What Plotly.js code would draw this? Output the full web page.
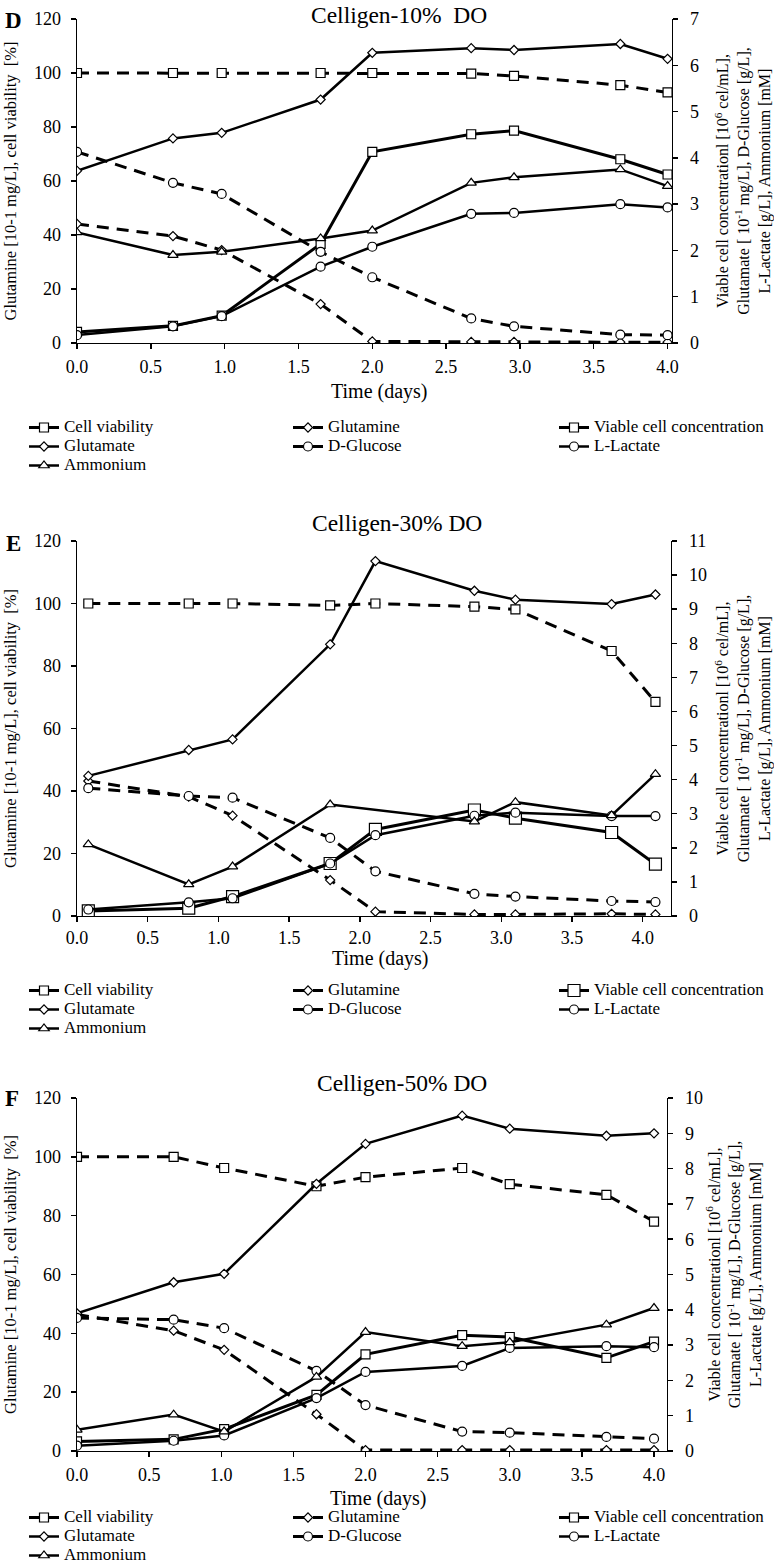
<!DOCTYPE html>
<html>
<head>
<meta charset="utf-8">
<script src="https://cdn.plot.ly/plotly-3.0.1.min.js"></script>
<style>html,body{margin:0;padding:0;background:#fff;}#chart{width:774px;height:1564px;}</style>
</head>
<body>
<div id="chart"></div>
<script>
// ---------------- DATA ----------------
const seriesNames = ['Cell viability','Glutamine','Viable cell concentration','Glutamate','D-Glucose','L-Lactate','Ammonium'];
const panelTitles = ['Celligen-10%\u00a0 DO','Celligen-30% DO','Celligen-50% DO'];
const panelLetters = ['D','E','F'];
const xTickLabels = ['0.0','0.5','1.0','1.5','2.0','2.5','3.0','3.5','4.0'];
const xTitle = 'Time (days)';

// Panel D (10% DO)
const timeD = [0, 0.65, 0.98, 1.65, 2.0, 2.67, 2.96, 3.68, 4.0];
const viabilityD = [100, 100, 100, 100, 100, 99.8, 98.9, 95.5, 92.8];
const glutamineD = [44.1, 39.6, 34.4, 14.4, 0.6, 0.4, 0.4, 0.3, 0.3];
const vcdD = [0.24, 0.37, 0.59, 2.14, 4.13, 4.51, 4.59, 3.97, 3.64];
const glutamateD = [3.72, 4.42, 4.54, 5.26, 6.27, 6.37, 6.33, 6.46, 6.14];
const glucoseD = [4.13, 3.46, 3.22, 1.97, 1.42, 0.53, 0.36, 0.18, 0.17];
const lactateD = [0.17, 0.36, 0.58, 1.65, 2.08, 2.79, 2.81, 3.0, 2.93];
const ammoniumTimeD = [0, 0.65, 0.98, 1.65, 2.0, 2.67, 2.96, 3.68, 4.0];
const ammoniumD = [2.39, 1.90, 1.97, 2.26, 2.43, 3.46, 3.58, 3.75, 3.39];

// Panel E (30% DO)
const timeE = [0.08, 0.79, 1.1, 1.79, 2.11, 2.81, 3.1, 3.78, 4.09];
const viabilityE = [100, 100, 100, 99.4, 100, 99, 98.1, 84.8, 68.5];
const glutamineE = [43.2, 38.2, 32.1, 11.5, 1.4, 0.5, 0.5, 0.7, 0.5];
const vcdE = [0.15, 0.23, 0.57, 1.54, 2.54, 3.11, 2.87, 2.45, 1.52];
const glutamateE = [4.11, 4.87, 5.18, 7.97, 10.41, 9.54, 9.28, 9.15, 9.43];
const glucoseE = [3.75, 3.52, 3.47, 2.29, 1.31, 0.65, 0.57, 0.44, 0.41];
const lactateE = [0.19, 0.4, 0.52, 1.54, 2.37, 2.94, 3.03, 2.93, 2.93];
const ammoniumTimeE = [0.08, 0.79, 1.1, 1.79, 2.81, 3.1, 3.78, 4.09];
const ammoniumE = [2.10, 0.93, 1.45, 3.27, 2.77, 3.34, 2.95, 4.16];

// Panel F (50% DO)
const timeF = [0, 0.67, 1.02, 1.66, 2.0, 2.67, 3.0, 3.67, 4.0];
const viabilityF = [100, 100, 96.2, 90, 93.1, 96.2, 90.7, 87.1, 78];
const glutamineF = [46.4, 40.9, 34.4, 12.5, 0.3, 0.3, 0.3, 0.3, 0.3];
const vcdF = [0.27, 0.33, 0.62, 1.59, 2.74, 3.28, 3.23, 2.64, 3.1];
const glutamateF = [3.9, 4.78, 5.02, 7.57, 8.7, 9.5, 9.13, 8.93, 9.0];
const glucoseF = [3.77, 3.72, 3.48, 2.27, 1.3, 0.55, 0.52, 0.4, 0.35];
const lactateF = [0.15, 0.29, 0.44, 1.5, 2.24, 2.41, 2.92, 2.97, 2.94];
const ammoniumTimeF = [0, 0.67, 1.02, 1.66, 2.0, 2.67, 3.0, 3.67, 4.0];
const ammoniumF = [0.6, 1.03, 0.55, 2.1, 3.37, 2.97, 3.08, 3.58, 4.05];

// ---------------- LAYOUT / STYLE ----------------
const W = 774, H = 1564;
const FONT = 'Liberation Serif';
const DASH = '12px,8px';
const px = v => v / W;
const py = v => 1 - v / H;

const panels = [
  {t: timeD, viab: viabilityD, gln: glutamineD, vcd: vcdD, glu: glutamateD, glc: glucoseD, lac: lactateD, at: ammoniumTimeD, amm: ammoniumD,
   left: 77, right: 672, top: 19, bottom: 343, xmax: 4.03, y2max: 7, legTop: 413, titleXY: [399, 15], letterXY: [13, 21],
   xTitleXY: [379, 391], xtStand: 2, rStand: 20, sq: 9, vsq: 9},
  {t: timeE, viab: viabilityE, gln: glutamineE, vcd: vcdE, glu: glutamateE, glc: glucoseE, lac: lactateE, at: ammoniumTimeE, amm: ammoniumE,
   left: 77, right: 671, top: 541, bottom: 916, xmax: 4.2, y2max: 11, legTop: 976, titleXY: [397, 523], letterXY: [13, 543],
   xTitleXY: [380, 958], xtStand: 0, rStand: 12, sq: 9, vsq: 12},
  {t: timeF, viab: viabilityF, gln: glutamineF, vcd: vcdF, glu: glutamateF, glc: glucoseF, lac: lactateF, at: ammoniumTimeF, amm: ammoniumF,
   left: 77, right: 667, top: 1098, bottom: 1451, xmax: 4.09, y2max: 10, legTop: 1503, titleXY: [402, 1083], letterXY: [12, 1098],
   xTitleXY: [378, 1498], xtStand: 2, rStand: 6, sq: 9, vsq: 9}
];

const traces = [];
const layout = {
  width: W, height: H,
  margin: {l: 0, r: 0, t: 0, b: 0, autoexpand: false},
  paper_bgcolor: '#fff', plot_bgcolor: 'rgba(0,0,0,0)',
  font: {family: FONT, color: '#000', size: 16},
  showlegend: true,
  annotations: []
};

const rightTitle = 'Viable cell concentrationl [10<sup>6</sup> cel/mL],<br>Glutamate [ 10<sup>-1</sup> mg/L], D-Glucose [g/L],<br>L-Lactate [g/L], Ammonium [mM]';
const leftTitle = 'Glutamine [10-1 mg/L], cell viability\u00a0 [%]';
const legendCols = [24, 288, 554];
const colOf = [0, 1, 2, 0, 1, 2, 0];

panels.forEach((p, i) => {
  const xId = i === 0 ? 'x' : 'x' + (i + 1);
  const yL = 'y' + (i === 0 ? '' : (2 * i + 1));
  const yR = 'y' + (2 * i + 2);
  const xKey = 'xaxis' + (i === 0 ? '' : (i + 1));
  const yLKey = 'yaxis' + (i === 0 ? '' : (2 * i + 1));
  const yRKey = 'yaxis' + (2 * i + 2);
  const xdom = [px(p.left), px(p.right)];
  const ydom = [py(p.bottom), py(p.top)];

  const baseAxis = {showgrid: false, zeroline: false, showline: true, linecolor: '#000', linewidth: 1.4,
    ticks: 'outside', ticklen: 5, tickwidth: 1.4, tickcolor: '#000', tickfont: {family: FONT, size: 18}};

  layout[xKey] = Object.assign({}, baseAxis, {domain: xdom, anchor: yL, range: [0, p.xmax], tickmode: 'array',
    tickvals: xTickLabels.map(Number), ticktext: xTickLabels, ticklabelstandoff: p.xtStand, automargin: false});
  layout[yLKey] = Object.assign({}, baseAxis, {domain: ydom, anchor: xId, range: [0, 120], dtick: 20,
    ticklabelstandoff: 6, title: {text: leftTitle, font: {family: FONT, size: 16.5}, standoff: 13}, automargin: false});
  layout[yRKey] = Object.assign({}, baseAxis, {overlaying: yL, anchor: xId, side: 'right', range: [0, p.y2max], dtick: 1,
    ticklabelstandoff: 8, title: {text: rightTitle, font: {family: FONT, size: 16}, standoff: p.rStand}, automargin: false});

  // cross-tick overlays (inside ticks)
  const xo = 'xaxis' + (4 + i), yo1 = 'yaxis' + (7 + 2 * i), yo2 = 'yaxis' + (8 + 2 * i);
  layout[xo] = {overlaying: xId, anchor: yL, domain: xdom, range: [0, p.xmax], tickmode: 'array', tickvals: xTickLabels.map(Number),
    ticks: 'inside', ticklen: 5, tickwidth: 1.4, tickcolor: '#000', showticklabels: false, showline: false, showgrid: false, zeroline: false};
  layout[yo1] = {overlaying: yL, anchor: xId, range: [0, 120], dtick: 20, side: 'left',
    ticks: 'inside', ticklen: 5, tickwidth: 1.4, tickcolor: '#000', showticklabels: false, showline: false, showgrid: false, zeroline: false};
  layout[yo2] = {overlaying: yL, anchor: xId, range: [0, p.y2max], dtick: 1, side: 'right',
    ticks: 'inside', ticklen: 5, tickwidth: 1.4, tickcolor: '#000', showticklabels: false, showline: false, showgrid: false, zeroline: false};

  const legIds = [0, 1, 2].map(c => {
    const n = 3 * i + c + 1;
    return n === 1 ? 'legend' : 'legend' + n;
  });
  legIds.forEach((lid, c) => {
    layout[lid] = {x: px(legendCols[c]), xanchor: 'left', y: py(p.legTop), yanchor: 'top', orientation: 'v',
      bgcolor: 'rgba(0,0,0,0)', borderwidth: 0, font: {family: FONT, size: 12}, tracegroupgap: 0, traceorder: 'normal'};
  });

  const defs = [
    {name: seriesNames[0], x: p.t, y: p.viab, axis: yL, dash: DASH, sym: 'square', size: p.sq, w: 3},
    {name: seriesNames[1], x: p.t, y: p.gln, axis: yL, dash: DASH, sym: 'diamond', size: 7, w: 3},
    {name: seriesNames[2], x: p.t, y: p.vcd, axis: yR, dash: 'solid', sym: 'square', size: p.vsq, w: 3},
    {name: seriesNames[3], x: p.t, y: p.glu, axis: yR, dash: 'solid', sym: 'diamond', size: 7, w: 2.5},
    {name: seriesNames[4], x: p.t, y: p.glc, axis: yR, dash: DASH, sym: 'circle', size: 9, w: 3},
    {name: seriesNames[5], x: p.t, y: p.lac, axis: yR, dash: 'solid', sym: 'circle', size: 9, w: 2.5},
    {name: seriesNames[6], x: p.at, y: p.amm, axis: yR, dash: 'solid', sym: 'triangle-up', size: 9, w: 2.5}
  ];
  defs.forEach((d, k) => {
    traces.push({
      type: 'scatter', mode: 'lines+markers', name: '<span style="font-size:17px">' + d.name + '</span>',
      x: d.x, y: d.y, xaxis: xId, yaxis: d.axis,
      line: {color: '#000', width: d.w, dash: d.dash},
      marker: {symbol: d.sym, size: d.size, color: '#fff', line: {color: '#000', width: 1.2}},
      legend: legIds[colOf[k]], hoverinfo: 'x+y'
    });
  });

  layout.annotations.push({xref: 'paper', yref: 'paper', x: px(p.titleXY[0]), y: py(p.titleXY[1]), xanchor: 'center', yanchor: 'middle',
    text: panelTitles[i], showarrow: false, font: {family: FONT, size: 23.5}});
  layout.annotations.push({xref: 'paper', yref: 'paper', x: px(p.letterXY[0]), y: py(p.letterXY[1]), xanchor: 'center', yanchor: 'middle',
    text: '<b>' + panelLetters[i] + '</b>', showarrow: false, font: {family: FONT, size: 23}});
  layout.annotations.push({xref: 'paper', yref: 'paper', x: px(p.xTitleXY[0]), y: py(p.xTitleXY[1]), xanchor: 'center', yanchor: 'middle',
    text: xTitle, showarrow: false, font: {family: FONT, size: 20}});
});

Plotly.newPlot('chart', traces, layout, {displayModeBar: false, staticPlot: true});
</script>
</body>
</html>
